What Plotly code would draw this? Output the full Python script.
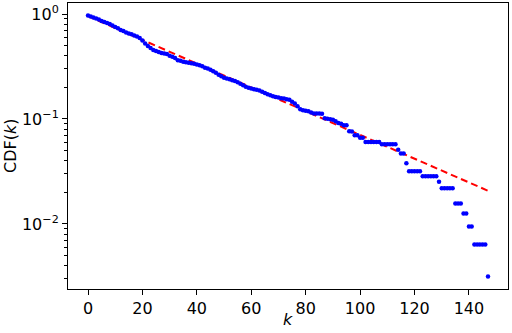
import plotly.graph_objects as go

k_values = list(range(0, 148))
cdf_values = [
    0.9675, 0.9465, 0.9260, 0.9058, 0.8862, 0.8573, 0.8387, 0.8205, 0.8027, 0.7767,
    0.7515, 0.7303, 0.7035, 0.6882, 0.6659, 0.6514, 0.6401, 0.6234, 0.6099, 0.5901,
    0.5584, 0.5251, 0.4948, 0.4735, 0.4531, 0.4432, 0.4336, 0.4241, 0.4195, 0.4149,
    0.4014, 0.3927, 0.3800, 0.3636, 0.3597, 0.3518, 0.3480, 0.3442, 0.3404, 0.3367,
    0.3308, 0.3258, 0.3187, 0.3084, 0.3030, 0.2951, 0.2855, 0.2763, 0.2644, 0.2558,
    0.2475, 0.2431, 0.2394, 0.2342, 0.2306, 0.2241, 0.2168, 0.2098, 0.2030, 0.1986,
    0.1952, 0.1922, 0.1901, 0.1868, 0.1819, 0.1768, 0.1722, 0.1684, 0.1648, 0.1623,
    0.1601, 0.1576, 0.1566, 0.1542, 0.1525, 0.1460, 0.1403, 0.1322, 0.1238, 0.1211,
    0.1198, 0.1185, 0.1151, 0.1126, 0.1126, 0.1126, 0.1121, 0.1015, 0.1004, 0.0993,
    0.0983, 0.0950, 0.0916, 0.0900, 0.0871, 0.0871, 0.0763, 0.0758, 0.0699, 0.0699,
    0.0664, 0.0664, 0.0603, 0.0603, 0.0603, 0.0603, 0.0603, 0.0603, 0.0573, 0.0573,
    0.0573, 0.0573, 0.0573, 0.0573, 0.0510, 0.0470, 0.0470, 0.0378, 0.0317, 0.0317,
    0.0317, 0.0317, 0.0317, 0.0284, 0.0284, 0.0284, 0.0284, 0.0284, 0.0284, 0.0252,
    0.0219, 0.0219, 0.0219, 0.0219, 0.0219, 0.01566, 0.01566, 0.01566, 0.01257, 0.01257,
    0.00944, 0.00944, 0.00636, 0.00636, 0.00636, 0.00636, 0.00636, 0.00315,
]

# Exponential fit (red dashed line), endpoints
fit_k = [0, 147]
fit_values = [0.955, 0.0207]

x_ticks = [0, 20, 40, 60, 80, 100, 120, 140]
y_ticks = [1, 0.1, 0.01]
y_tick_text = ["10<sup>0</sup>", "10<sup>−1</sup>", "10<sup>−2</sup>"]
minor_y = [m * 10 ** e for e in (-3, -2, -1) for m in range(2, 10)]

fig = go.Figure()
fig.add_trace(go.Scatter(
    x=fit_k, y=fit_values, mode="lines",
    line=dict(color="#ff0000", width=2, dash="7px,4px"),
    showlegend=False,
))
fig.add_trace(go.Scatter(
    x=k_values, y=cdf_values, mode="markers",
    marker=dict(color="#0000ff", size=4.5, line=dict(width=0)),
    showlegend=False,
))

font = dict(family="DejaVu Sans", size=16, color="#000000")
fig.update_layout(
    width=512, height=333,
    margin=dict(l=68, r=4, t=3, b=44),
    paper_bgcolor="white", plot_bgcolor="white",
    font=font,
    annotations=[
        dict(text="<i>k</i>", xref="paper", yref="paper", x=0.5, y=-0.105,
             xanchor="center", yanchor="middle", showarrow=False, font=font),
        dict(text="CDF(<i>k</i>)", xref="paper", yref="paper", x=-0.132, y=0.5,
             xanchor="center", yanchor="middle", textangle=-90, showarrow=False, font=font),
    ],
)
fig.update_xaxes(
    range=[-7.35, 154.35],
    tickvals=x_ticks,
    ticks="outside", ticklen=5, tickwidth=1, tickcolor="#000",
    showline=True, linecolor="#000", linewidth=1, mirror=True,
    showgrid=False, zeroline=False, automargin=False,
)
fig.update_yaxes(
    type="log",
    range=[-2.62, 0.105],
    tickvals=y_ticks, ticktext=y_tick_text,
    ticks="outside", ticklen=5, tickwidth=1, tickcolor="#000",
    minor=dict(tickvals=minor_y, ticks="outside", ticklen=3, tickcolor="#000", showgrid=False),
    showline=True, linecolor="#000", linewidth=1, mirror=True,
    showgrid=False, zeroline=False, automargin=False,
)

fig.write_html("out.html", config={"displayModeBar": False},
               post_script="document.body.style.margin='0';")
